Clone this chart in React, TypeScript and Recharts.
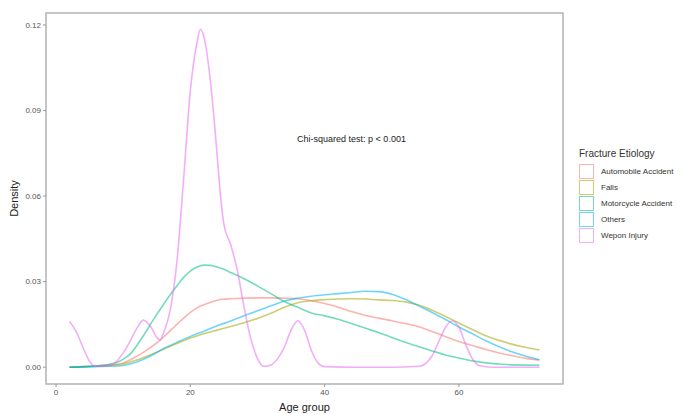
import React from 'react';
import {
  LineChart,
  Line,
  XAxis,
  YAxis,
  ReferenceArea,
  ReferenceDot,
} from 'recharts';

// Density curves (age in years, density)
const autoAges = [2, 4, 6, 8, 10, 11, 12, 13, 14, 15, 16, 17, 18, 19, 20, 21, 22, 23, 24, 26, 28, 30, 32, 34, 36, 38, 40, 42, 44, 46, 48, 50, 52, 54, 56, 58, 60, 62, 64, 66, 68, 70, 72];
const autoDensity = [0, 0.0002, 0.0004, 0.0008, 0.0015, 0.0025, 0.0038, 0.0052, 0.0068, 0.0085, 0.0105, 0.0128, 0.015, 0.0172, 0.0192, 0.0208, 0.0219, 0.0228, 0.0235, 0.024, 0.0242, 0.0243, 0.0243, 0.0242, 0.024, 0.0233, 0.0223, 0.021, 0.0195, 0.0182, 0.0172, 0.0163, 0.0153, 0.0142, 0.0125, 0.0107, 0.009, 0.0076, 0.0062, 0.005, 0.004, 0.0031, 0.0025];

const fallsAges = [2, 4, 6, 8, 10, 12, 14, 16, 18, 20, 22, 24, 26, 28, 30, 32, 34, 36, 38, 40, 42, 44, 46, 48, 50, 52, 54, 56, 58, 60, 62, 64, 66, 68, 70, 72];
const fallsDensity = [0, 0.0001, 0.0003, 0.0006, 0.0011, 0.0025, 0.0043, 0.0063, 0.0083, 0.0102, 0.0117, 0.013, 0.0143, 0.0156, 0.0171, 0.0189, 0.021, 0.0226, 0.0233, 0.0237, 0.0239, 0.024, 0.0239, 0.0236, 0.0234, 0.0229, 0.0218, 0.02, 0.0178, 0.0155, 0.0132, 0.011, 0.0094, 0.008, 0.0069, 0.006];

const motoAges = [2, 4, 6, 8, 9, 10, 11, 12, 13, 14, 15, 16, 17, 18, 19, 20, 21, 22, 23, 24, 25, 26, 28, 30, 32, 34, 36, 38, 40, 42, 44, 46, 48, 50, 52, 54, 56, 58, 60, 62, 64, 66, 68, 72];
const motoDensity = [0, 0.0002, 0.0005, 0.001, 0.0016, 0.0028, 0.0045, 0.0075, 0.011, 0.0148, 0.0185, 0.022, 0.0254, 0.0285, 0.0315, 0.0337, 0.0351, 0.0358, 0.0357, 0.0351, 0.0343, 0.0332, 0.031, 0.0285, 0.0258, 0.023, 0.021, 0.019, 0.018, 0.0168, 0.0153, 0.0137, 0.0122, 0.0104, 0.0087, 0.0072, 0.0057, 0.0043, 0.0032, 0.0022, 0.0015, 0.0011, 0.0008, 0.0007];

const otherAges = [2, 4, 6, 8, 10, 12, 14, 16, 18, 20, 22, 24, 26, 28, 30, 32, 34, 36, 38, 40, 42, 44, 46, 48, 50, 52, 54, 56, 58, 60, 62, 64, 66, 68, 70, 72];
const otherDensity = [0, 0.0001, 0.0002, 0.0003, 0.0006, 0.0018, 0.0038, 0.0065, 0.0087, 0.0108, 0.0126, 0.0145, 0.0162, 0.018, 0.0198, 0.0215, 0.0232, 0.0242, 0.0249, 0.0254, 0.0258, 0.0262, 0.0266, 0.0265, 0.0256, 0.0238, 0.0215, 0.0192, 0.0167, 0.0141, 0.0117, 0.0093, 0.0072, 0.0053, 0.0038, 0.0026];

const weaponAges = [2, 3, 4, 5, 6, 7, 8, 9, 10, 11, 12, 13, 14, 15, 15.5, 16, 17, 18, 19, 20, 21, 21.5, 22, 23, 23.5, 24, 24.5, 25, 26, 27, 28, 29, 30, 31, 32, 33, 34, 35, 36, 37, 38, 39, 40, 45, 50, 54, 55, 56, 57, 58, 59, 60, 61, 62, 63, 65, 72];
const weaponDensity = [0.016, 0.0125, 0.007, 0.002, 0.0003, 0.0003, 0.0005, 0.002, 0.005, 0.009, 0.0135, 0.0165, 0.0145, 0.0105, 0.0095, 0.012, 0.02, 0.037, 0.066, 0.097, 0.114, 0.1185, 0.116, 0.1, 0.088, 0.074, 0.06, 0.05, 0.043, 0.034, 0.021, 0.01, 0.003, 0.0003, 0.0008, 0.003, 0.007, 0.013, 0.0163, 0.013, 0.006, 0.0015, 0.0002, 0, 0, 0.0003, 0.0012, 0.004, 0.009, 0.014, 0.0162, 0.014, 0.008, 0.003, 0.0006, 0, 0];

const xTicks = [0, 20, 40, 60];
const yTicks = [0, 0.03, 0.06, 0.09, 0.12];

const zip = (ages: number[], dens: number[]) => ages.map((x, i) => ({ x, y: dens[i] }));

const series = [
  { name: 'Automobile Accident', color: '#F8766D', data: zip(autoAges, autoDensity) },
  { name: 'Falls', color: '#A3A500', data: zip(fallsAges, fallsDensity) },
  { name: 'Motorcycle Accident', color: '#00BF7D', data: zip(motoAges, motoDensity) },
  { name: 'Others', color: '#00B0F6', data: zip(otherAges, otherDensity) },
  { name: 'Wepon Injury', color: '#E76BF3', data: zip(weaponAges, weaponDensity) },
];

const font = '"Liberation Sans", Arial, sans-serif';

const App: React.FC = () => {
  return (
    <div style={{ position: 'absolute', left: 0, top: 0, width: 686, height: 414, background: '#fff' }}>
      <LineChart width={686} height={414} margin={{ top: 13, right: 123, bottom: 0, left: 0 }}>
        <ReferenceArea
          x1={-1.5}
          x2={75.5}
          y1={-0.0059}
          y2={0.1242}
          fill="none"
          stroke="#b3b3b3"
          strokeWidth={1.5}
        />
        <XAxis
          type="number"
          dataKey="x"
          domain={[-1.5, 75.5]}
          ticks={xTicks}
          height={30}
          axisLine={false}
          tickLine={{ stroke: '#999' }}
          tickSize={3}
          tick={{ fill: '#555', fontSize: 8, fontFamily: font }}
          label={{ value: 'Age group', position: 'insideBottom', offset: 3, fill: '#222', fontSize: 11, fontFamily: font }}
        />
        <YAxis
          type="number"
          dataKey="y"
          domain={[-0.0059, 0.1242]}
          ticks={yTicks}
          width={46}
          axisLine={false}
          tickLine={{ stroke: '#999' }}
          tickSize={3}
          tickFormatter={(v: number) => v.toFixed(2)}
          tick={{ fill: '#555', fontSize: 8, fontFamily: font }}
          label={{ value: 'Density', angle: -90, position: 'insideLeft', offset: 14, fill: '#222', fontSize: 11, fontFamily: font, style: { textAnchor: 'middle' } }}
        />
        {series.map((s) => (
          <Line
            key={s.name}
            data={s.data}
            dataKey="y"
            name={s.name}
            type="monotone"
            stroke={s.color}
            strokeOpacity={0.55}
            strokeWidth={1.6}
            dot={false}
            isAnimationActive={false}
          />
        ))}
        <ReferenceDot
          x={44}
          y={0.08}
          r={0}
          fill="none"
          stroke="none"
          label={{ value: 'Chi-squared test: p < 0.001', position: 'center', fill: '#222', fontSize: 9, fontFamily: font }}
        />
      </LineChart>
      <div style={{ position: 'absolute', left: 579, top: 148, fontFamily: font, color: '#333' }}>
        <div style={{ fontSize: 10, marginBottom: 4 }}>Fracture Etiology</div>
        {series.map((s) => (
          <div key={s.name} style={{ display: 'flex', alignItems: 'center', height: 16 }}>
            <div
              style={{
                width: 15,
                height: 15,
                boxSizing: 'border-box',
                border: `1.5px solid ${s.color}`,
                opacity: 0.55,
                marginRight: 7,
              }}
            />
            <span style={{ fontSize: 8 }}>{s.name}</span>
          </div>
        ))}
      </div>
    </div>
  );
};

export default App;
